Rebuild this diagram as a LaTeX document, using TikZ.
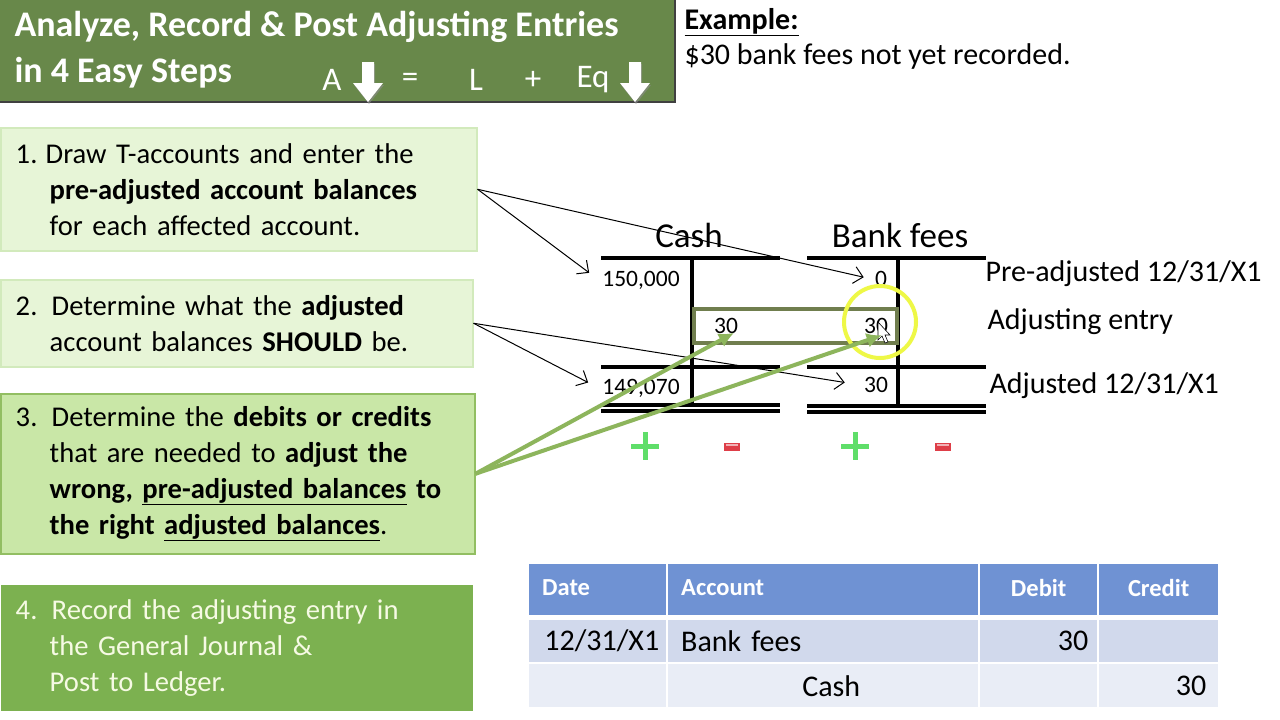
\documentclass[tikz,border=0pt]{standalone}
\usepackage{fontspec}
\setmainfont{Carlito}
\usepackage{tikz}
\usetikzlibrary{calc,positioning,arrows.meta}

\definecolor{titlegreen}{RGB}{104,136,74}
\definecolor{palegreen}{RGB}{231,245,215}
\definecolor{paleedge}{RGB}{210,234,188}
\definecolor{midgreen}{RGB}{201,231,167}
\definecolor{midedge}{RGB}{146,190,98}
\definecolor{stepgreen}{RGB}{124,177,80}
\definecolor{creamtext}{RGB}{246,250,228}
\definecolor{arrowgreen}{RGB}{141,181,92}
\definecolor{olivebox}{RGB}{112,126,78}
\definecolor{hdblue}{RGB}{111,146,211}
\definecolor{rowblue}{RGB}{209,217,236}
\definecolor{rowpale}{RGB}{233,237,246}
\definecolor{plusgreen}{RGB}{95,222,105}
\definecolor{minusred}{RGB}{222,62,72}
\definecolor{ringyellow}{RGB}{238,248,70}

\begin{document}
\begin{tikzpicture}[x=1pt, y=-1pt]
\tikzset{stepbox/.style={anchor=north west, inner xsep=15pt, inner ysep=0pt, align=left, line width=1.5pt, font={\fontsize{28.6}{36}\selectfont}},
titletext/.style={anchor=west, text=white, font={\bfseries\fontsize{36}{40}\selectfont}},
eqtext/.style={text=white, font={\fontsize{33}{36}\selectfont}},
tline/.style={line width=3.5pt},
num/.style={font={\fontsize{23.5}{26}\selectfont}},
acct/.style={font={\fontsize{35}{40}\selectfont}},
side/.style={anchor=west, font={\fontsize{30}{34}\selectfont}},
cell/.style={anchor=north west, inner xsep=13pt, inner ysep=0pt, font={\fontsize{30}{34}\selectfont}},
hcell/.style={cell, fill=hdblue, text=white, minimum height=51pt, font={\bfseries\fontsize{24.5}{28}\selectfont}},
blkarrow/.style={-{Straight Barb[length=9pt,width=17pt]}, line width=1pt},
grnarrow/.style={-{Latex[length=15pt,width=15pt]}, line width=4pt, arrowgreen}}
\useasboundingbox (0,0) rectangle (1280,720);
\fill[white] (0,0) rectangle (1280,720);

%% Title
\fill[titlegreen] (0,0) rectangle (675,102);
\draw[black!75, line width=2.5pt] (0,102) -- (675,102) -- (675,0);
\node (t1) [titletext] at (11,27) {Analyze, Record \& Post Adjusting Entries};
\node (t2) [titletext] at (11,73) {in 4 Easy Steps};
\node (eqA) [eqtext] at (332,80) {A};
\node (eqeq) [eqtext] at (410,80) {=};
\node (eqL) [eqtext] at (476,80) {L};
\node (eqplus) [eqtext] at (533,80) {+};
\node (eqEq) [eqtext] at (593,80) {Eq};
\foreach \ax in {368,635} {
  \fill[black!45, opacity=0.6] (\ax-5,64) -- (\ax+7,64) -- (\ax+7,85) -- (\ax+16,85) -- (\ax+1,104) -- (\ax-14,85) -- (\ax-5,85) -- cycle;
  \fill[white] (\ax-6,62) -- (\ax+6,62) -- (\ax+6,83) -- (\ax+15,83) -- (\ax,102) -- (\ax-15,83) -- (\ax-6,83) -- cycle;
}

%% Example
\node (ex1) [side] at (681,22) {\bfseries\underline{Example:}};
\node (ex2) [side] at (681,57) {\$30 bank fees not yet recorded.};

%% Steps
\node (s1) [stepbox, fill=palegreen, draw=paleedge, text width=446pt, minimum height=123pt] at (0,127)
  {\makebox[30pt][l]{1.}Draw T-accounts and enter the\\
   \hspace*{34pt}\textbf{pre-adjusted account balances}\\
   \hspace*{34pt}for each affected account.};
\node (s2) [stepbox, fill=palegreen, draw=paleedge, text width=442pt, minimum height=87pt] at (0,279)
  {\makebox[36pt][l]{2.}Determine what the \textbf{adjusted}\\
   \hspace*{34pt}account balances \textbf{SHOULD} be.};
\node (s3) [stepbox, fill=midgreen, draw=midedge, text width=444pt, minimum height=160pt] at (0,393)
  {\makebox[36pt][l]{3.}Determine the \textbf{debits or credits}\\
   \hspace*{34pt}that are needed to \textbf{adjust the}\\
   \hspace*{34pt}\textbf{wrong, \underline{pre-adjusted balances} to}\\
   \hspace*{34pt}\textbf{the right \underline{adjusted balances}}.};
\node (s4) [stepbox, fill=stepgreen, text=creamtext, text width=442pt, minimum height=126pt] at (0,584)
  {\makebox[36pt][l]{4.}Record the adjusting entry in\\
   \hspace*{34pt}the General Journal \&\\
   \hspace*{34pt}Post to Ledger.};

%% T-accounts
\node (cash) [acct] at (689,235) {Cash};
\node (bank) [acct] at (900,235) {Bank fees};
\draw[tline] (601,258) -- (780,258);
\draw[tline] (692,258) -- (692,404);
\draw[tline] (601,367) -- (780,367);
\draw[tline] (601,405) -- (780,405) (601,411) -- (780,411);
\draw[tline] (807,258) -- (986,258);
\draw[tline] (898,258) -- (898,406);
\draw[tline] (807,367) -- (986,367);
\draw[tline] (807,406) -- (986,406) (807,412) -- (986,412);

\draw[olivebox, line width=4pt] (694,309) rectangle (897,343);
\node (c150) [num] at (641,280) {150,000};
\node (b0) [num] at (881,279) {0};
\node (c30) [num] at (726,326) {30};
\node (b30) [num] at (876,326) {30};
\node (c149) [num] at (641,388) {149,070};
\node (b30b) [num] at (876,385) {30};
\draw[ringyellow, line width=4pt] (880,322) circle (36);
% pointer
\draw[black, fill=white, line width=0.6pt] (878,322) -- (878,340) -- (882,336) -- (885,343) -- (888,342) -- (885,335) -- (890,335) -- cycle;

\node (lpre) [side] at (982,274) {Pre-adjusted 12/31/X1};
\node (ladj) [side] at (984,322) {Adjusting entry};
\node (lpost) [side] at (986,386) {Adjusted 12/31/X1};

%% plus / minus
\foreach \px in {645,855} {
  \draw[plusgreen, line width=5pt] (\px-14,446) -- (\px+14,446) (\px,432) -- (\px,460);
}
\foreach \mx in {732,943} {
  \fill[minusred] (\mx-8,443) rectangle (\mx+8,451);
  \fill[white, opacity=0.6] (\mx-6,444) rectangle (\mx+6,446);
}

%% Connectors
\draw[blkarrow, shorten >=12pt] (s1.east) -- (c150.west);
\draw[blkarrow, shorten >=8pt] (s1.east) -- (b0.west);
\draw[blkarrow, shorten >=12pt] (s2.east) -- (c149.west);
\draw[blkarrow, shorten >=16pt] (s2.east) -- (b30b.west);
\draw[grnarrow, shorten >=-9pt] (s3.east) -- (c30.south);
\draw[grnarrow, shorten >=-6pt] (s3.east) -- (b30.south);

%% Journal
\node (hd) [hcell, text width=111pt] at (529,564) {\raisebox{4pt}{Date}};
\node (ha) [hcell, text width=284pt] at (668,564) {\raisebox{4pt}{Account}};
\node (hdr) [hcell, text width=91pt, align=center] at (980,564) {\raisebox{4pt}{Debit}};
\node (hcr) [hcell, text width=93pt, align=center] at (1099,564) {\raisebox{4pt}{Credit}};
\node (r1d) [cell, fill=rowblue, text width=123pt, inner xsep=7pt, align=right, minimum height=42pt] at (529,620) {12/31/X1};
\node (r1a) [cell, fill=rowblue, text width=284pt, minimum height=42pt] at (668,620) {Bank fees};
\node (r1dr) [cell, fill=rowblue, text width=99pt, inner xsep=9pt, align=right, minimum height=42pt] at (980,620) {30};
\node (r1cr) [cell, fill=rowblue, text width=93pt, minimum height=42pt] at (1099,620) {};
\node (r2d) [cell, fill=rowpale, text width=111pt, minimum height=43pt] at (529,664) {};
\node (r2a) [cell, fill=rowpale, text width=284pt, align=center, minimum height=43pt] at (668,664) {\hspace*{16pt}Cash};
\node (r2dr) [cell, fill=rowpale, text width=91pt, minimum height=43pt] at (980,664) {};
\node (r2cr) [cell, fill=rowpale, text width=95pt, inner xsep=12pt, align=right, minimum height=43pt] at (1099,664) {30};
\end{tikzpicture}
\end{document}
